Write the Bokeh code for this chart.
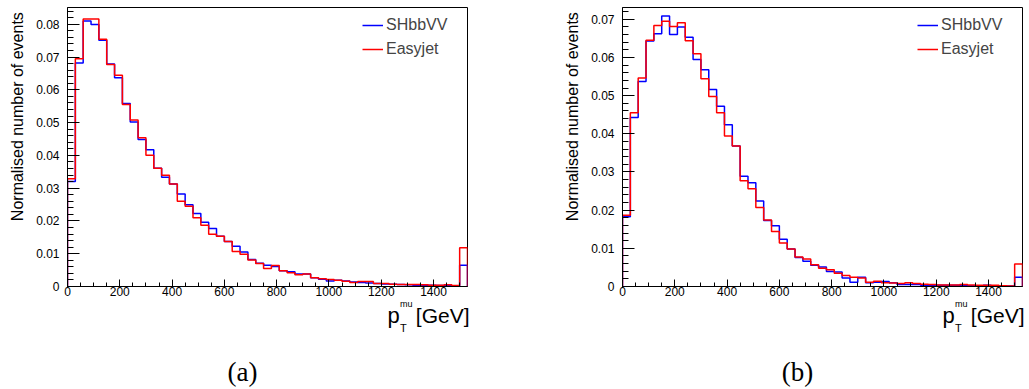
import numpy as np
from bokeh.plotting import figure
from bokeh.models import (Range1d, SingleIntervalTicker, CustomJSTickFormatter,
                          Legend, LegendItem)
from bokeh.core.properties import value
from bokeh.layouts import row, column
from bokeh.embed import file_html
from bokeh.resources import INLINE

# ---------------- data ----------------
bin_edges = list(range(0, 1531, 30))   # 51 bins of 30 GeV, last one holds the overflow

left_shbbvv = [0.0320, 0.0682, 0.0810, 0.0799, 0.0751, 0.0679, 0.0637, 0.0558, 0.0502, 0.0448,
               0.0417, 0.0361, 0.0333, 0.0313, 0.0282, 0.0249, 0.0223, 0.0196, 0.0177, 0.0153,
               0.0137, 0.0123, 0.0105, 0.0082, 0.0071, 0.0065, 0.0061, 0.0048, 0.0045, 0.0038,
               0.0038, 0.0027, 0.0022, 0.0017, 0.0019, 0.0017, 0.0014, 0.0012, 0.0011, 0.0009,
               0.0008, 0.0007, 0.0006, 0.0005, 0.0004, 0.0004, 0.0004, 0.0003, 0.0003, 0.0002,
               0.0065]
left_easyjet = [0.0329, 0.0695, 0.0816, 0.0816, 0.0754, 0.0677, 0.0644, 0.0555, 0.0508, 0.0454,
                0.0400, 0.0361, 0.0339, 0.0313, 0.0260, 0.0245, 0.0210, 0.0187, 0.0159, 0.0153,
                0.0137, 0.0107, 0.0098, 0.0081, 0.0070, 0.0055, 0.0064, 0.0048, 0.0042, 0.0036,
                0.0038, 0.0027, 0.0024, 0.0021, 0.0019, 0.0016, 0.0012, 0.0015, 0.0015, 0.0009,
                0.0009, 0.0007, 0.0006, 0.0006, 0.0006, 0.0005, 0.0004, 0.0004, 0.0005, 0.0003,
                0.0118]
right_shbbvv = [0.0183, 0.0443, 0.0537, 0.0643, 0.0662, 0.0709, 0.0660, 0.0680, 0.0653, 0.0595,
                0.0568, 0.0516, 0.0472, 0.0424, 0.0368, 0.0289, 0.0272, 0.0224, 0.0173, 0.0159,
                0.0124, 0.0098, 0.0076, 0.0066, 0.0056, 0.0051, 0.0039, 0.0038, 0.0022, 0.0011,
                0.0024, 0.0010, 0.0011, 0.0013, 0.0010, 0.0005, 0.0005, 0.0005, 0.0003, 0.0003,
                0.0003, 0.0003, 0.0003, 0.0003, 0.0002, 0.0002, 0.0003, 0.0002, 0.0001, 0.0001,
                0.0024]
right_easyjet = [0.0187, 0.0455, 0.0546, 0.0645, 0.0684, 0.0695, 0.0681, 0.0691, 0.0644, 0.0610,
                 0.0544, 0.0498, 0.0455, 0.0394, 0.0368, 0.0277, 0.0256, 0.0207, 0.0174, 0.0144,
                 0.0114, 0.0098, 0.0077, 0.0072, 0.0057, 0.0048, 0.0044, 0.0035, 0.0029, 0.0024,
                 0.0022, 0.0011, 0.0014, 0.0010, 0.0009, 0.0008, 0.0010, 0.0008, 0.0006, 0.0005,
                 0.0004, 0.0004, 0.0004, 0.0005, 0.0004, 0.0003, 0.0003, 0.0003, 0.0002, 0.0001,
                 0.0059]

series_names = ["SHbbVV", "Easyjet"]
y_title = "Normalised number of events"
x_title_parts = ["p", "T", "mu", "[GeV]"]     # p_T^{mu} [GeV]
captions = ["(a)", "(b)"]
y_max = [0.0851, 0.0731]

SANS = "Liberation Sans"
SERIF = "Liberation Serif"

TOP_H = 300      # height of the row holding the histogram figure
BOT_H = 389 - TOP_H
YT_W = 33        # width of the strip holding the y title


def outline(edges, vals):
    xs = np.repeat(np.asarray(edges, dtype=float), 2)
    ys = np.concatenate([[0.0], np.repeat(np.asarray(vals, dtype=float), 2), [0.0]])
    return xs, ys


def blank(width, height):
    f = figure(width=width, height=height, x_range=Range1d(0, width),
               y_range=Range1d(0, height), output_backend="svg", toolbar_location=None,
               x_axis_type=None, y_axis_type=None, min_border=0)
    f.outline_line_color = None
    f.background_fill_color = "white"
    f.border_fill_color = "white"
    return f


def put_text(f, x, y_from_top, text, size, align="left", baseline="alphabetic",
             angle=0.0, font=SANS):
    h = f.height
    f.text(x=[x], y=[h - y_from_top], text=[text], angle=angle,
           text_font=value(font), text_font_size=value(size), text_align=align,
           text_baseline=baseline, text_color="black")


def make_panel(blue, red, ymax, width, br, caption):
    p = figure(width=width - YT_W, height=TOP_H, x_range=Range1d(0, bin_edges[-1]),
               y_range=Range1d(0, ymax), output_backend="svg", toolbar_location=None,
               min_border_left=66 - YT_W, min_border_right=br, min_border_top=7,
               min_border_bottom=TOP_H - 286)
    p.background_fill_color = "white"
    p.border_fill_color = "white"
    p.outline_line_color = "black"
    p.outline_line_width = 1
    p.grid.visible = False

    xb, yb = outline(bin_edges, blue)
    xr, yr = outline(bin_edges, red)
    rb = p.line(xb, yb, line_color="#0000ff", line_width=1.5)
    rr = p.line(xr, yr, line_color="#ff0000", line_width=1.5)

    xa = p.xaxis[0]
    xa.ticker = SingleIntervalTicker(interval=200, num_minor_ticks=4)
    xa.major_tick_in = 7
    xa.major_tick_out = 0
    xa.minor_tick_in = 4
    xa.minor_tick_out = 0
    xa.major_label_standoff = 0
    xa.major_label_text_font = SANS
    xa.major_label_text_font_size = "12px"
    xa.major_label_text_color = "black"
    xa.axis_line_color = "black"

    ya = p.yaxis[0]
    ya.ticker = SingleIntervalTicker(interval=0.01, num_minor_ticks=5)
    ya.formatter = CustomJSTickFormatter(code="return tick == 0 ? '0' : tick.toFixed(2);")
    ya.major_tick_in = 12
    ya.major_tick_out = 0
    ya.minor_tick_in = 6
    ya.minor_tick_out = 0
    ya.major_label_standoff = 8
    ya.major_label_text_font = SANS
    ya.major_label_text_font_size = "12px"
    ya.major_label_text_color = "black"
    ya.axis_line_color = "black"

    leg = Legend(items=[LegendItem(label=series_names[0], renderers=[rb]),
                        LegendItem(label=series_names[1], renderers=[rr])],
                 location=(295, 225), orientation="vertical")
    leg.border_line_color = None
    leg.background_fill_alpha = 0
    leg.padding = 0
    leg.spacing = 0
    leg.margin = 0
    leg.glyph_width = 21
    leg.glyph_height = 24
    leg.label_height = 24
    leg.label_standoff = 3
    leg.label_text_font = SANS
    leg.label_text_font_size = "16px"
    p.add_layout(leg)

    # strip on the left with the rotated y title
    yt = blank(YT_W, TOP_H)
    put_text(yt, 17, 5, y_title, "16px", align="right", angle=np.pi / 2)

    # strip below with the x title and the sub-figure caption
    bt = blank(width, BOT_H)
    put_text(bt, 387, 315 - TOP_H, x_title_parts[0], "22px")
    put_text(bt, 399.5, 327.5 - TOP_H, x_title_parts[1], "11px")
    put_text(bt, 399.5, 303.5 - TOP_H, x_title_parts[2], "9px")
    put_text(bt, 469, 315 - TOP_H, x_title_parts[3], "21px", align="right")
    put_text(bt, 242, 371 - TOP_H, caption, "27px", align="center", baseline="middle",
             font=SERIF)

    return column(row(yt, p), bt)


panel_a = make_panel(left_shbbvv, left_easyjet, y_max[0], 555, 88, captions[0])
panel_b = make_panel(right_shbbvv, right_easyjet, y_max[1], 474, 7, captions[1])

layout = row(panel_a, panel_b)
open("out.html", "w").write(file_html(layout, INLINE))
